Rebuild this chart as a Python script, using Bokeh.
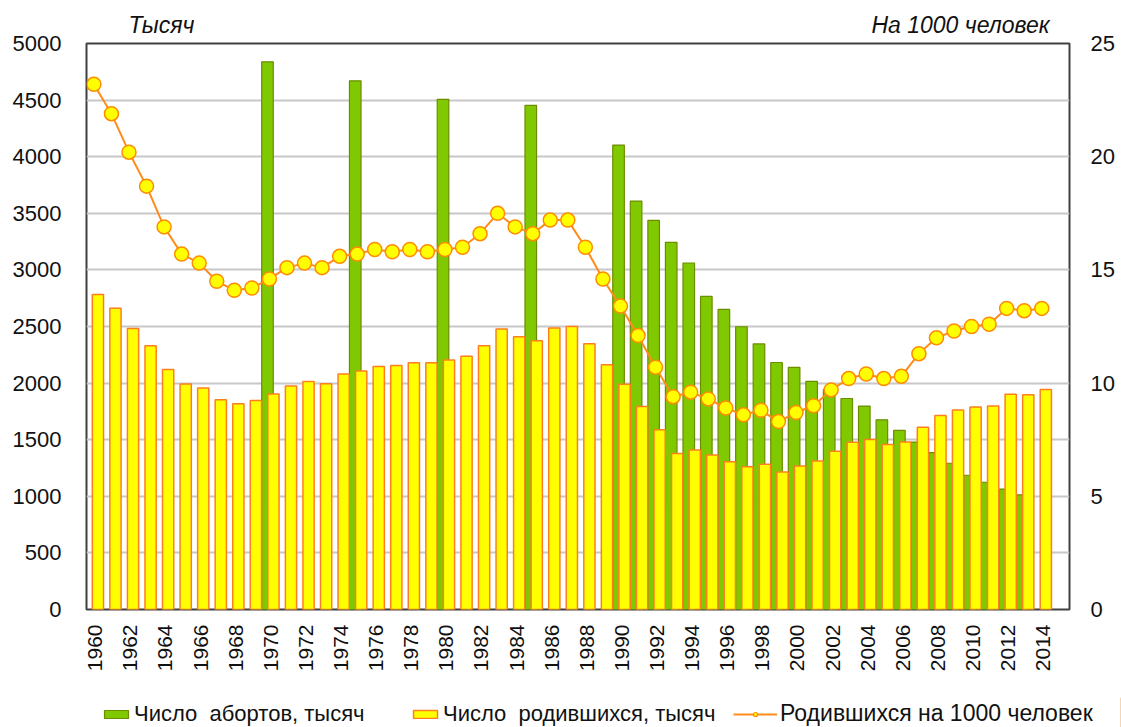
import math
from bokeh.plotting import figure
from bokeh.layouts import column, row
from bokeh.models import (Range1d, LinearAxis, FixedTicker, Legend, LegendItem,
                          ColumnDataSource)
from bokeh.transform import dodge
from bokeh.embed import file_html
from bokeh.resources import INLINE

# ---------------- data ----------------
years = list(range(1960, 2015))

births = [2782, 2662, 2482, 2331, 2121, 1991, 1957, 1852, 1817, 1847,
          1904, 1974, 2015, 1995, 2080, 2107, 2146, 2156, 2179, 2179,
          2203, 2237, 2329, 2478, 2409, 2375, 2486, 2500, 2348, 2161,
          1989, 1794, 1588, 1379, 1408, 1364, 1305, 1260, 1283, 1215,
          1267, 1312, 1397, 1477, 1502, 1457, 1479, 1610, 1714, 1762,
          1789, 1797, 1902, 1896, 1943]

birth_rate = [23.2, 21.9, 20.2, 18.7, 16.9, 15.7, 15.3, 14.5, 14.1, 14.2,
              14.6, 15.1, 15.3, 15.1, 15.6, 15.7, 15.9, 15.8, 15.9, 15.8,
              15.9, 16.0, 16.6, 17.5, 16.9, 16.6, 17.2, 17.2, 16.0, 14.6,
              13.4, 12.1, 10.7, 9.4, 9.6, 9.3, 8.9, 8.6, 8.8, 8.3,
              8.7, 9.0, 9.7, 10.2, 10.4, 10.2, 10.3, 11.3, 12.0, 12.3,
              12.5, 12.6, 13.3, 13.2, 13.3]

abortion_years = [1970, 1975, 1980, 1985, 1990, 1991, 1992, 1993, 1994, 1995,
                  1996, 1997, 1998, 1999, 2000, 2001, 2002, 2003, 2004, 2005,
                  2006, 2007, 2008, 2009, 2010, 2011, 2012, 2013]
abortions = [4838, 4670, 4506, 4454, 4103, 3608, 3437, 3244, 3061, 2766,
             2652, 2498, 2346, 2182, 2139, 2015, 1945, 1864, 1797, 1676,
             1582, 1479, 1385, 1292, 1186, 1124, 1064, 1012]

x_ticks = list(range(1960, 2015, 2))
left_ticks = list(range(0, 5001, 500))
right_ticks = [0, 5, 10, 15, 20, 25]

label_ab = "Число  абортов, тысяч"
label_br = "Число  родившихся, тысяч"
label_rate = "Родившихся на 1000 человек"
title_left = "Тысяч"
title_right = "На 1000 человек"

FONT = "Liberation Sans"
TXT = "#111111"
GREEN_FILL, GREEN_LINE = "#80C800", "#6E8C00"
YEL_FILL, YEL_LINE = "#FFFF00", "#FF7F1E"
RATE_LINE, RATE_EDGE = "#FF8C1A", "#FF8C00"

src = ColumnDataSource(dict(year=years, births=births, rate=birth_rate))
src_ab = ColumnDataSource(dict(year=abortion_years, abortions=abortions))

# ---------------- main chart ----------------
p = figure(width=1121, height=697,
           x_range=Range1d(1959.5, 2015.5), y_range=Range1d(0, 5000),
           output_backend="svg", toolbar_location=None,
           min_border_left=86, min_border_right=52,
           min_border_top=43, min_border_bottom=88)
p.extra_y_ranges = {"rate": Range1d(0, 25)}
p.extra_x_ranges = {"px": Range1d(0, 983)}

p.background_fill_color = "white"
p.border_fill_color = "white"
p.outline_line_color = "#404040"
p.outline_line_width = 2

p.vbar(x=dodge("year", -0.19, range=p.x_range), top="abortions", width=0.66,
       source=src_ab, fill_color=GREEN_FILL, line_color=GREEN_LINE, line_width=1.2)
p.vbar(x=dodge("year", 0.15, range=p.x_range), top="births", width=0.64,
       source=src, fill_color=YEL_FILL, line_color=YEL_LINE, line_width=1.5)
p.line(x=dodge("year", -0.08, range=p.x_range), y="rate", source=src,
       y_range_name="rate", line_color=RATE_LINE, line_width=2)
p.scatter(x=dodge("year", -0.08, range=p.x_range), y="rate", source=src,
          y_range_name="rate", marker="circle", size=14,
          fill_color=YEL_FILL, line_color=RATE_EDGE, line_width=1.5)

p.xgrid.visible = False
p.ygrid.ticker = FixedTicker(ticks=left_ticks)
p.ygrid.grid_line_color = "#C8C8C8"
p.ygrid.grid_line_width = 2


def style_axis(ax, size="21px"):
    ax.axis_line_color = None
    ax.major_tick_line_color = None
    ax.minor_tick_line_color = None
    ax.major_label_text_font = FONT
    ax.major_label_text_font_size = size
    ax.major_label_text_color = TXT


p.xaxis.ticker = FixedTicker(ticks=x_ticks)
p.xaxis.major_label_orientation = math.pi / 2
p.xaxis.major_label_standoff = 9
style_axis(p.xaxis[0])

p.yaxis.ticker = FixedTicker(ticks=left_ticks)
p.yaxis.major_label_standoff = 19
style_axis(p.yaxis[0], "22px")

raxis = LinearAxis(y_range_name="rate", ticker=FixedTicker(ticks=right_ticks))
raxis.major_label_standoff = 15
style_axis(raxis, "22px")
p.add_layout(raxis, "right")

# axis unit titles above the frame (as labels of an above axis)
taxis = LinearAxis(x_range_name="px", ticker=FixedTicker(ticks=[75, 874]),
                   major_label_overrides={75: title_left, 874: title_right})
taxis.major_label_standoff = 0
style_axis(taxis, "23px")
taxis.major_label_text_font_style = "italic"
p.add_layout(taxis, "above")

# ---------------- legend strip (own figure) ----------------
lg = figure(width=1121, height=30, output_backend="svg", toolbar_location=None,
            min_border=0, min_border_left=0, min_border_right=0,
            min_border_top=0, min_border_bottom=0,
            x_axis_type=None, y_axis_type=None,
            x_range=Range1d(0, 1), y_range=Range1d(0, 1))
lg.outline_line_color = None
lg.background_fill_color = "white"
lg.border_fill_color = "white"

# swatch renderers (their data lies outside the strip's ranges; only the legend shows them)
d_green = lg.vbar(x=[10], top=[10], width=0.5, fill_color=GREEN_FILL,
                  line_color=GREEN_LINE, line_width=1.2)
d_yel = lg.vbar(x=[10], top=[10], width=0.5, fill_color=YEL_FILL,
                line_color=YEL_LINE, line_width=1.5)
d_line = lg.line(x=[10, 11], y=[10, 10], line_color=RATE_LINE, line_width=2)
d_dot = lg.scatter(x=[10], y=[10], marker="circle", size=9, fill_color=YEL_FILL,
                   line_color=RATE_EDGE, line_width=1.2)


def make_legend(label, renderers, x, gw, size="22px"):
    leg = Legend(items=[LegendItem(label=label, renderers=renderers)],
                 location=(x, 0), orientation="horizontal",
                 glyph_width=gw, glyph_height=10, padding=0, margin=0,
                 label_standoff=3, border_line_color=None, background_fill_alpha=0,
                 label_text_font=FONT, label_text_font_size=size,
                 label_text_color=TXT)
    lg.add_layout(leg)


make_legend(label_ab, [d_green], 101, 30)
make_legend(label_br, [d_yel], 410, 30)
make_legend(label_rate, [d_line, d_dot], 733, 44, "23px")

layout = column(p, row(lg, spacing=0), spacing=0)
open("out.html", "w").write(file_html(layout, INLINE))
